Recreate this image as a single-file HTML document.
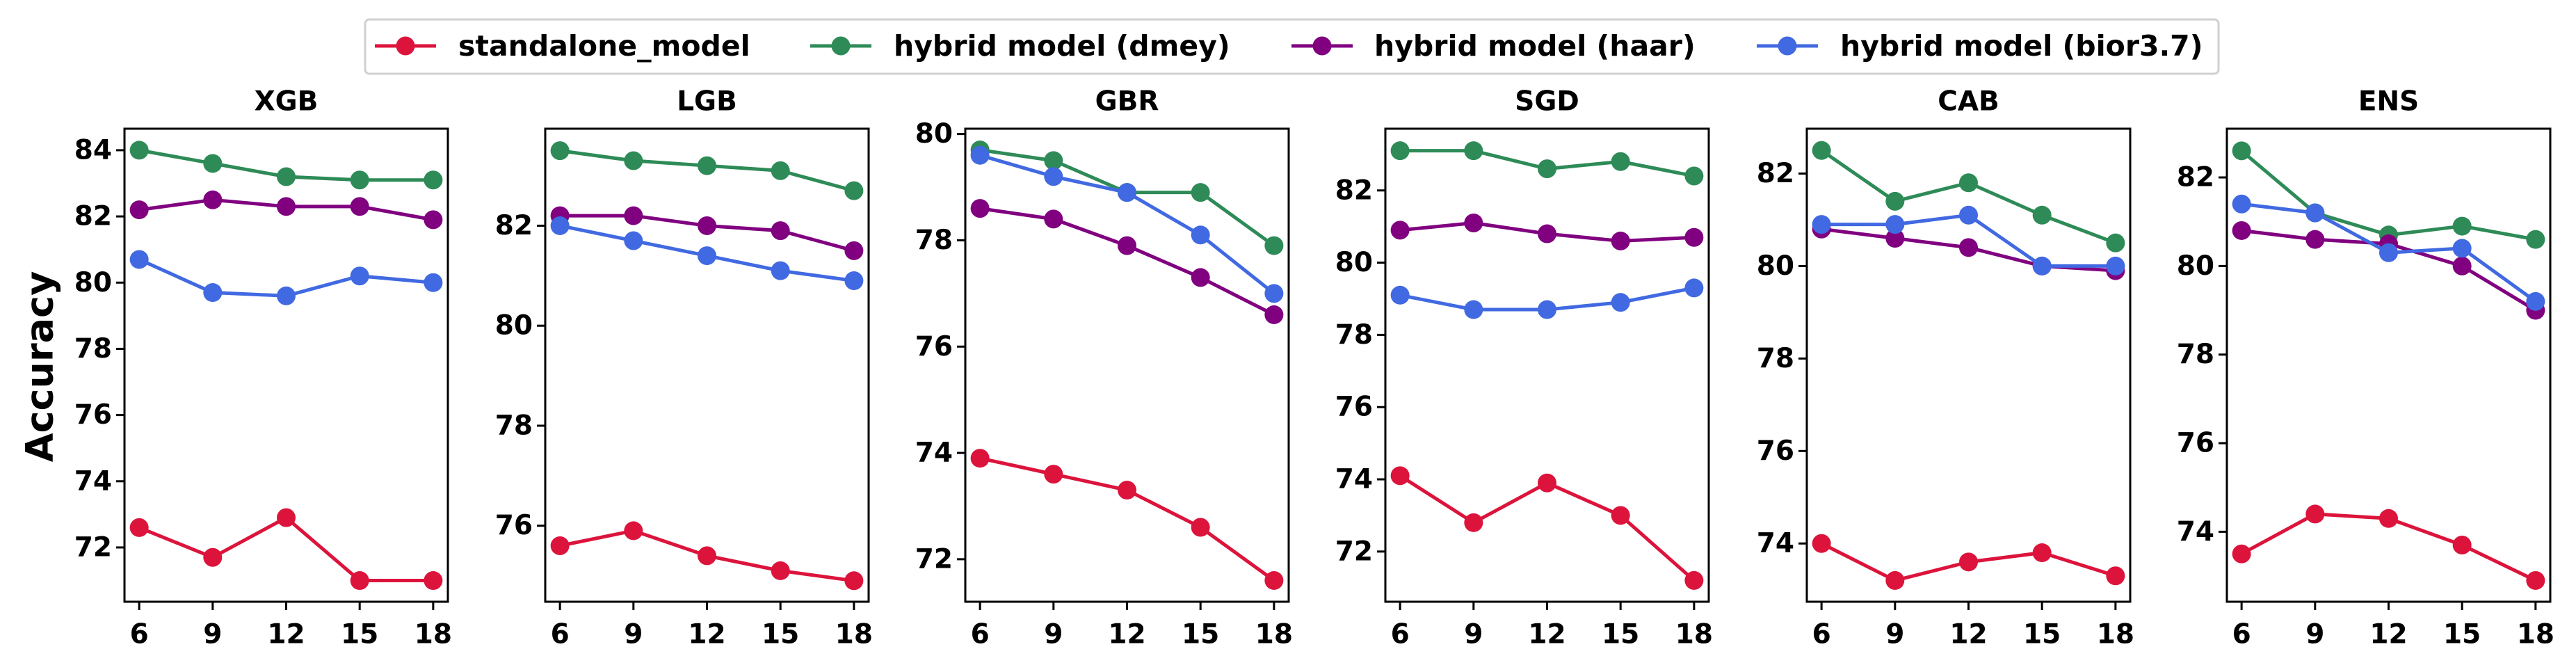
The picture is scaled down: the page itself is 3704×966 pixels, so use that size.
<!DOCTYPE html>
<html><head><meta charset="utf-8"><style>
html,body{margin:0;padding:0;background:#fff;}
svg{display:block;font-family:"DejaVu Sans","Liberation Sans",sans-serif;font-weight:bold;}
</style></head><body>
<svg id="chart" width="3704" height="966" viewBox="0 0 3704 966" xmlns="http://www.w3.org/2000/svg">
<g>
<rect x="525" y="28" width="2665" height="78" rx="6" fill="#fff" stroke="#d0d0d0" stroke-width="3"/>
</g>
<text x="57" y="527" transform="rotate(-90 57 527)" font-size="54" text-anchor="middle" dominant-baseline="central">Accuracy</text>
</svg>
<script>
const xValues = [6, 9, 12, 15, 18];
const panelNames = ["XGB", "LGB", "GBR", "SGD", "CAB", "ENS"];
const seriesNames = ["standalone_model", "hybrid model (dmey)", "hybrid model (haar)", "hybrid model (bior3.7)"];
const standalone = [
  [72.6,71.7,72.9,71.0,71.0],
  [75.6,75.9,75.4,75.1,74.9],
  [73.9,73.6,73.3,72.6,71.6],
  [74.1,72.8,73.9,73.0,71.2],
  [74.0,73.2,73.6,73.8,73.3],
  [73.5,74.4,74.3,73.7,72.9]];
const dmey = [
  [84.0,83.6,83.2,83.1,83.1],
  [83.5,83.3,83.2,83.1,82.7],
  [79.7,79.5,78.9,78.9,77.9],
  [83.1,83.1,82.6,82.8,82.4],
  [82.5,81.4,81.8,81.1,80.5],
  [82.6,81.2,80.7,80.9,80.6]];
const haar = [
  [82.2,82.5,82.3,82.3,81.9],
  [82.2,82.2,82.0,81.9,81.5],
  [78.6,78.4,77.9,77.3,76.6],
  [80.9,81.1,80.8,80.6,80.7],
  [80.8,80.6,80.4,80.0,79.9],
  [80.8,80.6,80.5,80.0,79.0]];
const bior = [
  [80.7,79.7,79.6,80.2,80.0],
  [82.0,81.7,81.4,81.1,80.9],
  [79.6,79.2,78.9,78.1,77.0],
  [79.1,78.7,78.7,78.9,79.3],
  [80.9,80.9,81.1,80.0,80.0],
  [81.4,81.2,80.3,80.4,79.2]];
const yMin = [70.36, 74.48, 71.20, 70.61, 72.74, 72.42];
const yMax = [84.65, 83.94, 80.10, 83.71, 82.97, 83.10];
const yTickLabels = [
  [72,74,76,78,80,82,84],
  [76,78,80,82],
  [72,74,76,78,80],
  [72,74,76,78,80,82],
  [74,76,78,80,82],
  [74,76,78,80,82]];

const colors = ["#DC143C", "#2E8B57", "#800080", "#4169E1"];
const allSeries = [standalone, dmey, haar, bior];
const panelLeft = [179, 784, 1388, 1992, 2598, 3202];
const panelW = 465, plotTop = 185, plotBottom = 865;
const NS = "http://www.w3.org/2000/svg";
const svg = document.getElementById("chart");
function mk(tag, attrs, parent) {
  const e = document.createElementNS(NS, tag);
  for (const k in attrs) e.setAttribute(k, attrs[k]);
  (parent || svg).appendChild(e);
  return e;
}

panelNames.forEach((name, p) => {
  const L = panelLeft[p];
  const g = mk("g", {});
  
  
  const xLo = xValues[0] - 0.6, xHi = xValues[xValues.length - 1] + 0.6;
  const xs = v => L + (v - xLo) / (xHi - xLo) * panelW;
  const ys = v => plotBottom - (v - yMin[p]) / (yMax[p] - yMin[p]) * (plotBottom - plotTop);
  const title = mk("text", {x: L + panelW / 2, y: 146, "font-size": 39, "text-anchor": "middle", "dominant-baseline": "central"}, g);
  title.textContent = name;
  
  
  yTickLabels[p].forEach(t => {
    const y = ys(t);
    const tk = mk("line", {x1: L - 12, x2: L, y1: y, y2: y, stroke: "#000", "stroke-width": 3}, g);
    
    
    const lb = mk("text", {x: L - 18, y: y, "font-size": 39, "text-anchor": "end", "dominant-baseline": "central"}, g);
    lb.textContent = t;
    
    
  });
  xValues.forEach(t => {
    const x = xs(t);
    const tk = mk("line", {x1: x, x2: x, y1: plotBottom, y2: plotBottom + 12, stroke: "#000", "stroke-width": 3}, g);
    
    
    const lb = mk("text", {x: x, y: 912, "font-size": 39, "text-anchor": "middle", "dominant-baseline": "central"}, g);
    lb.textContent = t;
    
    
  });
  allSeries.forEach((ser, s) => {
    const vals = ser[p];
    const pts = vals.map((v, i) => xs(xValues[i]) + "," + ys(v)).join(" ");
    const line = mk("polyline", {points: pts, fill: "none", stroke: colors[s], "stroke-width": 5, "stroke-linejoin": "round"}, g);
    
    
    vals.forEach((v, i) => {
      const c = mk("circle", {cx: xs(xValues[i]), cy: ys(v), r: 13.5, fill: colors[s]}, g);
      
      
    });
  });
  const frame = mk("rect", {x: L, y: plotTop, width: panelW, height: plotBottom - plotTop, fill: "none", stroke: "#000", "stroke-width": 3}, g);
  
  
});

const legendLineX = [539, 1165, 1857, 2526];
const legendTextX = [659, 1285, 1976, 2646];
seriesNames.forEach((n, s) => {
  const g = mk("g", {});
  
  
  mk("line", {x1: legendLineX[s], x2: legendLineX[s] + 88, y1: 66, y2: 66, stroke: colors[s], "stroke-width": 5}, g);
  mk("circle", {cx: legendLineX[s] + 44, cy: 66, r: 13.5, fill: colors[s]}, g);
  const t = mk("text", {x: legendTextX[s], y: 66, "font-size": 41, "dominant-baseline": "central"}, g);
  t.textContent = n;
});
</script>
</body></html>
